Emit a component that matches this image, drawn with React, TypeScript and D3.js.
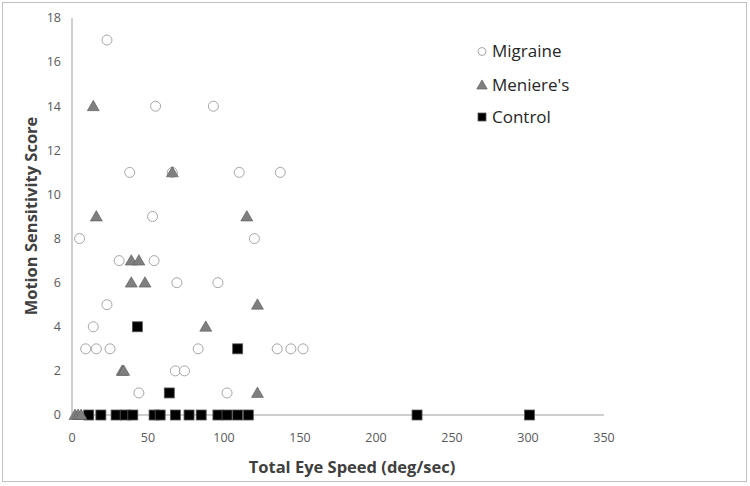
import React from "react";
import * as d3 from "d3";

const xTicks = [0, 50, 100, 150, 200, 250, 300, 350];
const yTicks = [0, 2, 4, 6, 8, 10, 12, 14, 16, 18];

const migraineX = [23, 55, 93, 38, 110, 137, 5, 120, 53, 31, 54, 69, 96, 23, 14, 9, 16, 25, 83, 135, 144, 152, 68, 74, 44, 102, 66];
const migraineY = [17, 14, 14, 11, 11, 11, 8, 8, 9, 7, 7, 6, 6, 5, 4, 3, 3, 3, 3, 3, 3, 3, 2, 2, 1, 1, 11];

const meniereX = [14, 66, 16, 115, 39, 44, 39, 48, 122, 88, 33, 34, 122, 2, 4, 6];
const meniereY = [14, 11, 9, 9, 7, 7, 6, 6, 5, 4, 2, 2, 1, 0, 0, 0];

const controlX = [43, 109, 64, 11, 19, 29, 35, 40, 54, 58, 68, 77, 85, 96, 102, 109, 116, 227, 301];
const controlY = [4, 3, 1, 0, 0, 0, 0, 0, 0, 0, 0, 0, 0, 0, 0, 0, 0, 0, 0];

const seriesNames = ["Migraine", "Meniere's", "Control"];

const W = 750;
const H = 486;
const FONT = "'Open Sans', 'Liberation Sans', sans-serif";

export default function App() {
  const x = d3.scaleLinear().domain([0, 350]).range([72, 604]);
  const y = d3.scaleLinear().domain([0, 18]).range([415, 18]);

  const tri = d3.symbol().type(d3.symbolTriangle).size(62)() as string;
  const triSmall = d3.symbol().type(d3.symbolTriangle).size(48)() as string;

  const migraine = migraineX.map((v, i) => ({ x: v, y: migraineY[i] }));
  const meniere = meniereX.map((v, i) => ({ x: v, y: meniereY[i] }));
  const control = controlX.map((v, i) => ({ x: v, y: controlY[i] }));

  const legendY = [51.5, 85, 117];

  return (
    <svg width={W} height={H} style={{ position: "absolute", left: 0, top: 0, background: "#fff" }}>
      <rect x={2.5} y={2.5} width={744} height={479} fill="#fff" stroke="#bfbfbf" strokeWidth={1} />
      {/* axes */}
      <line x1={x(0)} x2={x(350)} y1={y(0)} y2={y(0)} stroke="#bfbfbf" strokeWidth={1.5} />
      <line x1={x(0)} x2={x(0)} y1={y(0)} y2={y(18)} stroke="#bfbfbf" strokeWidth={1.5} />
      {yTicks.map((t) => (
        <text key={"y" + t} x={61} y={y(t)} dy="0.35em" textAnchor="end" fontFamily={FONT} fontSize={12.5} fill="#595959">
          {t}
        </text>
      ))}
      {xTicks.map((t) => (
        <text key={"x" + t} x={x(t)} y={438} dy="0.35em" textAnchor="middle" fontFamily={FONT} fontSize={12.5} fill="#595959">
          {t}
        </text>
      ))}
      <text x={352} y={467} dy="0.35em" textAnchor="middle" fontFamily={FONT} fontWeight="bold" fontSize={16.5} fill="#404040">
        Total Eye Speed (deg/sec)
      </text>
      <text transform={`translate(31,216) rotate(-90)`} textAnchor="middle" dy="0.35em" fontFamily={FONT} fontWeight="bold" fontSize={16.5} fill="#404040">
        Motion Sensitivity Score
      </text>

      {/* control squares */}
      {control.map((d, i) => (
        <rect key={"c" + i} x={x(d.x) - 5} y={y(d.y) - 5} width={10} height={10} fill="#000" stroke="#595959" strokeWidth={0.8} />
      ))}
      {/* migraine circles */}
      {migraine.map((d, i) => (
        <circle key={"m" + i} cx={x(d.x)} cy={y(d.y)} r={5} fill="#fff" stroke="#a6a6a6" strokeWidth={1} />
      ))}
      {/* meniere triangles */}
      {meniere.map((d, i) => (
        <path key={"t" + i} d={tri} transform={`translate(${x(d.x)},${y(d.y) + 1})`} fill="#7f7f7f" stroke="#595959" strokeWidth={0.6} />
      ))}

      {/* legend */}
      <circle cx={482} cy={legendY[0]} r={4} fill="#fff" stroke="#a6a6a6" strokeWidth={1} />
      <path d={triSmall} transform={`translate(482,${legendY[1] + 1})`} fill="#7f7f7f" stroke="#595959" strokeWidth={0.6} />
      <rect x={478} y={legendY[2] - 4} width={8} height={8} fill="#000" stroke="#595959" strokeWidth={0.8} />
      {seriesNames.map((s, i) => (
        <text key={s} x={492} y={legendY[i]} dy="0.35em" fontFamily={FONT} fontSize={17} fill="#262626">
          {s}
        </text>
      ))}
    </svg>
  );
}
